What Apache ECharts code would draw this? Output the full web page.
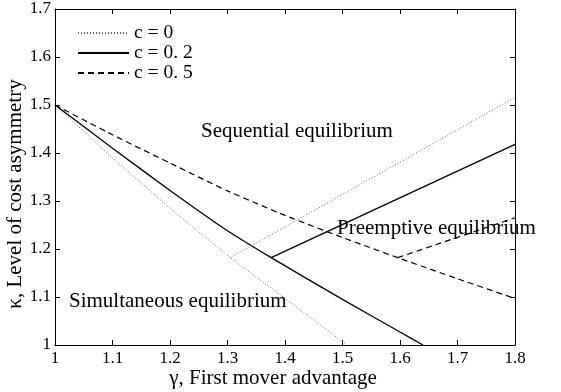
<!DOCTYPE html>
<html>
<head>
<meta charset="utf-8">
<script src="https://cdn.jsdelivr.net/npm/echarts@6/dist/echarts.min.js"></script>
<style>
  html, body { margin: 0; padding: 0; background: #fff; }
  #chart { width: 561px; height: 392px; }
</style>
</head>
<body>
<div id="chart"></div>
<script>
// Equilibrium regions in (gamma, kappa) space for three cost levels c.
// Each c has a lower boundary curve and an upper boundary line that
// branches off it.
const seriesNames = ['c = 0', 'c = 0. 2', 'c = 0. 5'];

const c0Lower = [[1.0, 1.5], [1.1, 1.39], [1.2, 1.285], [1.305, 1.182], [1.4, 1.097], [1.5, 1.007], [1.508, 1.0]];
const c0Upper = [[1.305, 1.182], [1.8, 1.516]];

const c2Lower = [[1.0, 1.5], [1.1, 1.41], [1.2, 1.322], [1.3, 1.238], [1.376, 1.182], [1.5, 1.095], [1.6, 1.027], [1.64, 1.0]];
const c2Upper = [[1.376, 1.182], [1.8, 1.418]];

const c5Lower = [[1.0, 1.5], [1.1, 1.438], [1.2, 1.379], [1.3, 1.321], [1.4, 1.27], [1.5, 1.224], [1.596, 1.182], [1.7, 1.138], [1.8, 1.097]];
const c5Upper = [[1.596, 1.182], [1.8, 1.265]];

const xMin = 1, xMax = 1.8, xStep = 0.1;
const yMin = 1, yMax = 1.7, yStep = 0.1;

const regionLabels = ['Sequential equilibrium', 'Preemptive equilibrium', 'Simultaneous equilibrium'];
const xTitle = 'γ, First mover advantage';
const yTitle = 'κ, Level of cost asymmetry';

const FONT = '"Liberation Serif", "Times New Roman", serif';
const fmt = v => String(Number(v.toFixed(1)));

const styles = [
  { color: '#666', width: 1, type: [1, 2] },
  { color: '#000', width: 1.3, type: 'solid' },
  { color: '#000', width: 1.2, type: [6, 4] }
];

function lineSeries(name, data, st) {
  return {
    name: name,
    type: 'line',
    data: data,
    showSymbol: false,
    symbol: 'none',
    smooth: 0.15,
    animation: false,
    silent: true,
    lineStyle: { color: st.color, width: st.width, type: st.type },
    itemStyle: { color: st.color }
  };
}

const baseAxis = {
  type: 'value',
  axisLine: { show: true, onZero: false, lineStyle: { color: '#000', width: 1 } },
  axisTick: { show: true, inside: true, length: 5, lineStyle: { color: '#000' } },
  splitLine: { show: false }
};

const chart = echarts.init(document.getElementById('chart'), null, { renderer: 'canvas' });

chart.setOption({
  backgroundColor: '#fff',
  animation: false,
  grid: { left: 55, right: 46, top: 9, bottom: 47, containLabel: false },
  xAxis: [
    Object.assign({}, baseAxis, {
      position: 'bottom', min: xMin, max: xMax, interval: xStep,
      axisLabel: { show: true, margin: 5, color: '#000', fontSize: 17, fontFamily: FONT, formatter: fmt }
    }),
    Object.assign({}, baseAxis, {
      position: 'top', min: xMin, max: xMax, interval: xStep,
      axisLabel: { show: false }
    })
  ],
  yAxis: [
    Object.assign({}, baseAxis, {
      position: 'left', min: yMin, max: yMax, interval: yStep,
      axisLabel: { show: true, margin: 4, color: '#000', fontSize: 17, fontFamily: FONT, formatter: fmt }
    }),
    Object.assign({}, baseAxis, {
      position: 'right', min: yMin, max: yMax, interval: yStep,
      axisLabel: { show: false }
    })
  ],
  legend: {
    data: seriesNames,
    orient: 'vertical',
    left: 77,
    top: 23,
    padding: 0,
    itemWidth: 51,
    itemHeight: 10,
    itemGap: 0,
    selectedMode: false,
    itemStyle: { opacity: 0 },
    textStyle: { color: '#000', fontSize: 19.5, fontFamily: FONT, lineHeight: 20 }
  },
  series: [
    lineSeries(seriesNames[0], c0Lower, styles[0]),
    lineSeries(seriesNames[1], c2Lower, styles[1]),
    lineSeries(seriesNames[2], c5Lower, styles[2]),
    lineSeries(seriesNames[0], c0Upper, styles[0]),
    lineSeries(seriesNames[1], c2Upper, styles[1]),
    lineSeries(seriesNames[2], c5Upper, styles[2])
  ],
  graphic: [
    { type: 'text', x: 201, y: 131, style: { text: regionLabels[0], font: '21px ' + FONT, fill: '#000', verticalAlign: 'middle' } },
    { type: 'text', x: 337, y: 228, style: { text: regionLabels[1], font: '21px ' + FONT, fill: '#000', verticalAlign: 'middle' } },
    { type: 'text', x: 69, y: 301, style: { text: regionLabels[2], font: '21px ' + FONT, fill: '#000', verticalAlign: 'middle' } },
    { type: 'text', x: 273, y: 378, style: { text: xTitle, font: '21px ' + FONT, fill: '#000', align: 'center', verticalAlign: 'middle' } },
    { type: 'text', x: 15, y: 194, rotation: Math.PI / 2, style: { text: yTitle, font: '21px ' + FONT, fill: '#000', align: 'center', verticalAlign: 'middle' } }
  ]
});
</script>
</body>
</html>
